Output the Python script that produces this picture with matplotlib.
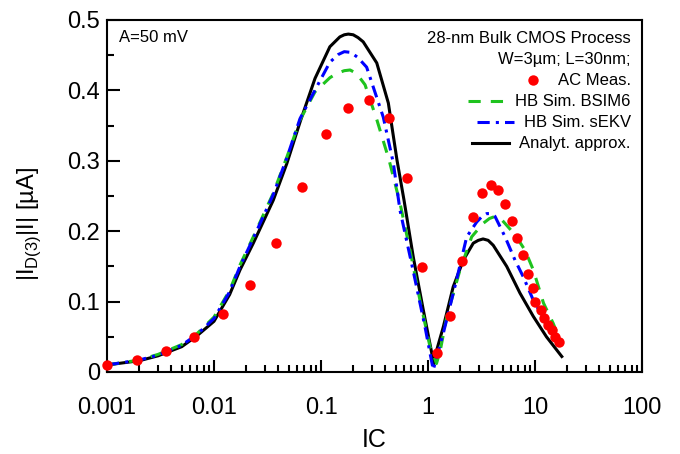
import matplotlib
matplotlib.use("Agg")
import matplotlib.pyplot as plt
from matplotlib.ticker import LogLocator, FuncFormatter, MultipleLocator
from matplotlib.lines import Line2D

plt.rcParams["font.family"] = ["Liberation Sans", "DejaVu Sans"]
plt.rcParams["mathtext.fontset"] = "custom"
plt.rcParams["mathtext.rm"] = "Liberation Sans"

# AC measurement
meas_ic = [0.001, 0.0019, 0.00356, 0.00655, 0.0121, 0.0217, 0.0379, 0.0664, 0.1114,
           0.18, 0.283, 0.433, 0.632, 0.885, 1.205, 1.61, 2.08, 2.62, 3.22, 3.86,
           4.54, 5.28, 6.1, 6.79, 7.78, 8.55, 9.51, 10.1, 11.3, 12.1, 13.3, 14.3,
           15.4, 16.7]
meas_id3 = [0.010, 0.017, 0.030, 0.050, 0.082, 0.124, 0.183, 0.263, 0.338,
            0.375, 0.386, 0.361, 0.276, 0.149, 0.027, 0.080, 0.158, 0.220, 0.254, 0.265,
            0.258, 0.238, 0.214, 0.190, 0.166, 0.139, 0.119, 0.100, 0.088, 0.076, 0.067, 0.060,
            0.050, 0.042]

# HB simulation, BSIM6
bsim_ic = [0.001, 0.002, 0.003, 0.005, 0.007, 0.01, 0.014, 0.0175, 0.0233, 0.0358,
           0.0479, 0.0637, 0.0879, 0.121, 0.14, 0.165, 0.187, 0.215, 0.258, 0.333, 0.433, 0.547,
           0.679, 0.841, 1.044, 1.162, 1.2, 1.3, 1.50, 1.99, 2.56, 3.27, 3.75, 4.23, 4.7, 5.25,
           6.5, 8.07, 9.64, 12.0, 14.8, 16.3]
bsim_id3 = [0.010, 0.017, 0.025, 0.039, 0.055, 0.078, 0.116, 0.152, 0.192, 0.254,
            0.305, 0.358, 0.398, 0.418, 0.424, 0.428, 0.429, 0.424, 0.408, 0.358, 0.301, 0.240,
            0.173, 0.102, 0.036, 0.018, 0.012, 0.030, 0.079, 0.145, 0.192, 0.211, 0.218, 0.221, 0.219, 0.211,
            0.195, 0.173, 0.145, 0.098, 0.069, 0.053]

# HB simulation, sEKV
sekv_ic = [0.001, 0.002, 0.003, 0.005, 0.007, 0.01, 0.014, 0.0175, 0.0233, 0.0358,
           0.0479, 0.0637, 0.0912, 0.121, 0.145, 0.165, 0.19, 0.22, 0.267, 0.382, 0.474, 0.547,
           0.724, 0.938, 1.05, 1.12, 1.2, 1.39, 1.85, 2.30, 2.85, 3.2, 3.54, 3.9, 4.23, 5.25,
           6.5, 7.78, 9.64, 12.8, 16.0, 17.0]
sekv_id3 = [0.010, 0.017, 0.024, 0.038, 0.054, 0.076, 0.114, 0.150, 0.190, 0.252,
            0.304, 0.360, 0.405, 0.440, 0.451, 0.455, 0.454, 0.447, 0.433, 0.362, 0.297, 0.230,
            0.145, 0.064, 0.025, 0.003, 0.020, 0.055, 0.131, 0.192, 0.213, 0.221, 0.225, 0.225, 0.221, 0.192,
            0.159, 0.135, 0.102, 0.069, 0.050, 0.045]

# analytical approximation
anal_ic = [0.001, 0.002, 0.003, 0.005, 0.007, 0.01, 0.014, 0.0175, 0.0233, 0.0358,
           0.0479, 0.0637, 0.0879, 0.121, 0.15, 0.165, 0.18, 0.2, 0.222, 0.248, 0.332, 0.426, 0.513,
           0.597, 0.729, 0.904, 1.084, 1.12, 1.2, 1.39, 1.72, 2.14, 2.65, 2.95, 3.27, 3.65, 4.07,
           5.44, 7.24, 9.64, 12.8, 17.8]
anal_id3 = [0.010, 0.016, 0.023, 0.036, 0.052, 0.072, 0.110, 0.145, 0.183, 0.244,
            0.296, 0.355, 0.417, 0.462, 0.476, 0.479, 0.480, 0.479, 0.475, 0.469, 0.439, 0.382, 0.301,
            0.244, 0.163, 0.088, 0.027, 0.010, 0.030, 0.064, 0.121, 0.159, 0.183, 0.187, 0.189, 0.187, 0.180,
            0.150, 0.112, 0.079, 0.050, 0.022]

GREEN = "#1ec31e"
BLUE = "#0000ff"
RED = "#ff0000"

fig = plt.figure(figsize=(6.8, 4.54), dpi=100)
ax = fig.add_axes([107 / 680, 82 / 454, 535 / 680, 352 / 454])

lw = 2.2
ax.plot(bsim_ic, bsim_id3, color=GREEN, lw=lw, dashes=(4, 3.3), zorder=3)
ax.plot(sekv_ic, sekv_id3, color=BLUE, lw=lw, dashes=(4, 2, 1, 2), zorder=4)
ax.plot(anal_ic, anal_id3, color="black", lw=lw, zorder=2)
ax.plot(meas_ic, meas_id3, "o", color=RED, ms=7.5, mec="none", zorder=5, clip_on=False)

ax.set_xscale("log")
ax.set_xlim(0.001, 100)
ax.set_ylim(0, 0.5)
ax.xaxis.set_major_locator(LogLocator(base=10, numticks=10))
ax.xaxis.set_minor_locator(LogLocator(base=10, subs=range(2, 10), numticks=20))
ax.xaxis.set_major_formatter(FuncFormatter(lambda v, p: f"{v:g}"))
ax.yaxis.set_major_locator(MultipleLocator(0.1))
ax.yaxis.set_minor_locator(MultipleLocator(0.05))
ax.yaxis.set_major_formatter(FuncFormatter(lambda v, p: f"{v:g}"))

ax.tick_params(which="both", direction="in", top=False, right=False, width=1.5,
               labelsize=17, pad=5)
ax.tick_params(axis="x", which="both", pad=18)
ax.tick_params(which="major", length=9)
ax.tick_params(which="minor", length=5)
for s in ax.spines.values():
    s.set_linewidth(1.5)

ax.set_xlabel("IC", fontsize=18)
ax.set_ylabel(r"|I$_{\mathregular{D(3)}}$|I| [µA]", fontsize=17)
ax.xaxis.set_label_coords(0.5, -0.16)
ax.yaxis.set_label_coords(-0.119, 0.42)

ax.text(0.022, 0.949, "A=50 mV", transform=ax.transAxes, fontsize=12,
        ha="left", va="center")

# legend drawn by hand: entries right-aligned, handle just left of each text
x_right = 0.979
row0 = 0.948
step = 0.0597
entries = [
    ("28-nm Bulk CMOS Process", None),
    ("W=3µm; L=30nm;", None),
    ("AC Meas.", dict(marker="o", color=RED, ms=7.5, mec="none", ls="none")),
    ("HB Sim. BSIM6", dict(color=GREEN, lw=lw, dashes=(4, 3.3))),
    ("HB Sim. sEKV", dict(color=BLUE, lw=lw, dashes=(4, 2, 1, 2))),
    ("Analyt. approx.", dict(color="black", lw=lw)),
]
texts = []
for i, (label, _) in enumerate(entries):
    t = ax.text(x_right, row0 - i * step, label, transform=ax.transAxes, fontsize=12,
                ha="right", va="center")
    texts.append(t)

fig.canvas.draw()
renderer = fig.canvas.get_renderer()
inv = ax.transAxes.inverted()
px = 1 / 535
for (label, style), t in zip(entries, texts):
    if style is None:
        continue
    bb = t.get_window_extent(renderer)
    x_left = inv.transform((bb.x0, bb.y0))[0]
    y = t.get_position()[1]
    if style.get("marker"):
        xs = [x_left - 25 * px]
        ys = [y]
    else:
        xs = [x_left - 47 * px, x_left - 10 * px]
        ys = [y, y]
    ax.add_line(Line2D(xs, ys, transform=ax.transAxes, clip_on=False, **style))

fig.savefig("out.png", dpi=100)
